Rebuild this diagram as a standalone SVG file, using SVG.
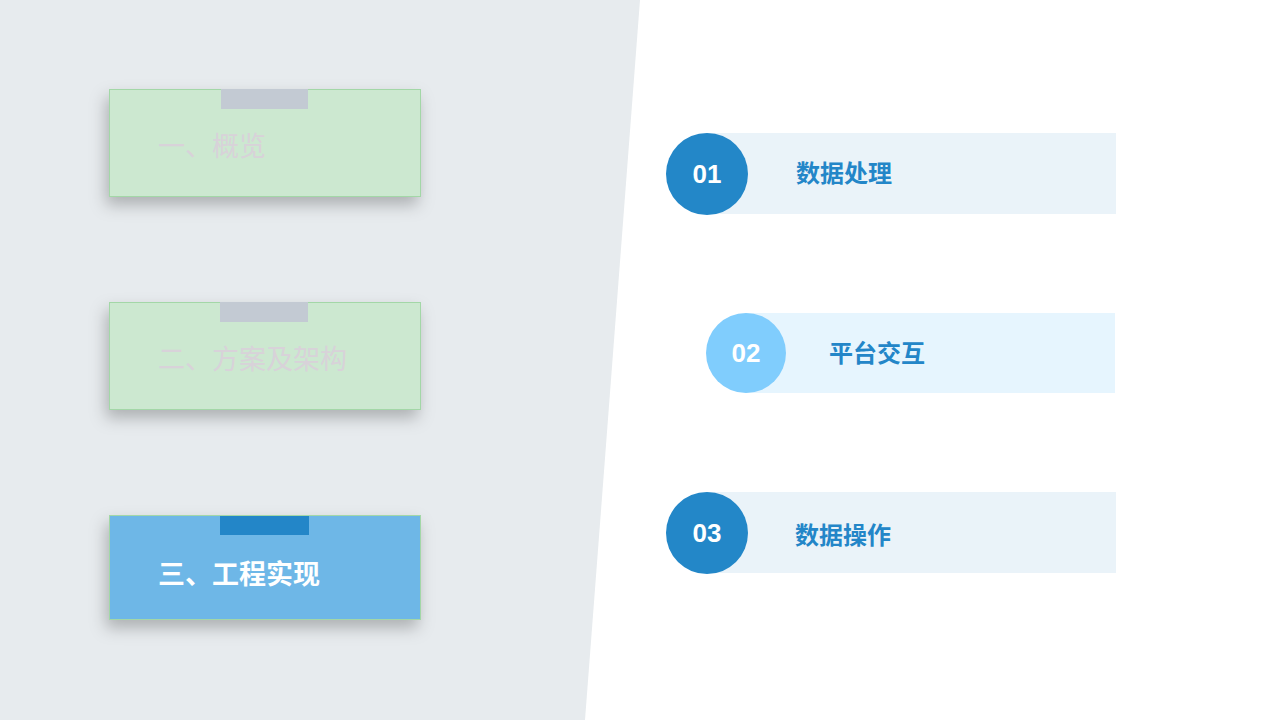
<svg xmlns="http://www.w3.org/2000/svg" width="1280" height="720" viewBox="0 0 1280 720">
<defs>
<filter id="sh" x="-20%" y="-30%" width="140%" height="180%">
<feDropShadow dx="-3" dy="8" stdDeviation="8" flood-color="#000" flood-opacity="0.25"/>
</filter>
<style>
.card{fill:#cce8d0;stroke:#a3d7a7;stroke-width:1}
.tab{fill:#c3cad3}
.ct{font-family:"Noto Sans CJK SC","Liberation Sans",sans-serif;font-size:27px;font-weight:400;fill:#d8d2d9}
.num{font-family:"Liberation Sans","Noto Sans CJK SC",sans-serif;font-size:26px;font-weight:bold;fill:#fff;text-anchor:middle}
.lbl{font-family:"Liberation Sans","Noto Sans CJK SC",sans-serif;font-size:24px;font-weight:bold;fill:#2386c8}
</style>
</defs>
<rect width="1280" height="720" fill="#ffffff"/>
<polygon points="0,0 640,0 585,720 0,720" fill="#e7ebee"/>
<g id="card1">
<rect class="card" x="109.5" y="89.5" width="311" height="107" filter="url(#sh)"/>
<rect class="tab" x="221" y="89" width="87" height="20"/>
<text class="ct" x="158" y="156">一、概览</text>
</g>
<g id="card2">
<rect class="card" x="109.5" y="302.5" width="311" height="107" filter="url(#sh)"/>
<rect class="tab" x="220" y="302" width="88" height="20"/>
<text class="ct" x="158" y="369">二、方案及架构</text>
</g>
<g id="card3">
<rect x="109.5" y="515.5" width="311" height="104" fill="#6eb7e7" stroke="#a3d7a7" stroke-width="1" filter="url(#sh)"/>
<rect x="220" y="516" width="89" height="19" fill="#2386c8"/>
<text class="ct" x="158" y="584" style="fill:#ffffff;font-weight:bold">三、工程实现</text>
</g>
<g id="item1">
<rect x="708" y="133" width="408" height="81" fill="#eaf3f9"/>
<circle cx="707" cy="174" r="41" fill="#2387c8"/>
<text class="num" x="707" y="183">01</text>
<text class="lbl" x="796" y="182">数据处理</text>
</g>
<g id="item2">
<rect x="745" y="313" width="370" height="80" fill="#e6f5fe"/>
<circle cx="746" cy="353" r="40" fill="#80cdfd"/>
<text class="num" x="746" y="362">02</text>
<text class="lbl" x="829" y="362">平台交互</text>
</g>
<g id="item3">
<rect x="708" y="492" width="408" height="81" fill="#eaf3f9"/>
<circle cx="707" cy="533" r="41" fill="#2387c8"/>
<text class="num" x="707" y="542">03</text>
<text class="lbl" x="795" y="544">数据操作</text>
</g>
<g id="connectors"></g>
</svg>
